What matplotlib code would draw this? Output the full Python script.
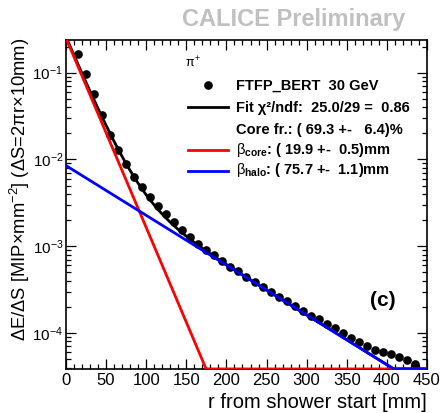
import numpy as np
import matplotlib
matplotlib.use("Agg")
from matplotlib import pyplot as plt
from matplotlib.lines import Line2D
from matplotlib.ticker import LogLocator, NullFormatter, MultipleLocator

plt.rcParams['font.family'] = ['Liberation Sans', 'DejaVu Sans']
plt.rcParams['mathtext.fontset'] = 'custom'
plt.rcParams['mathtext.rm'] = 'Liberation Sans'
plt.rcParams['mathtext.it'] = 'Liberation Sans'
plt.rcParams['mathtext.bf'] = 'Liberation Sans:bold'

################# FTFP_BERT 30 GeV radial profile #################
r_mm = [15, 25, 35, 45, 55, 65, 75, 85, 95, 105, 115, 125, 135, 145, 155,
        165, 175, 185, 195, 205, 215, 225, 235, 245, 255, 265, 275, 285,
        295, 305, 315, 325, 335, 345, 355, 365, 375, 385, 395, 405, 415,
        425, 435]
edep = [0.164, 0.0974, 0.0565, 0.0324, 0.0191, 0.0128, 0.00885, 0.00632,
        0.00479, 0.00373, 0.00294, 0.00236, 0.00190, 0.00154, 0.00128,
        0.00107, 9.16e-4, 7.86e-4, 6.74e-4, 5.77e-4, 5.12e-4, 4.45e-4,
        3.91e-4, 3.40e-4, 3.00e-4, 2.61e-4, 2.31e-4, 2.04e-4, 1.80e-4,
        1.59e-4, 1.44e-4, 1.28e-4, 1.13e-4, 1.00e-4, 8.85e-5, 7.88e-5,
        7.16e-5, 6.41e-5, 6.11e-5, 5.77e-5, 5.28e-5, 4.85e-5, 4.34e-5]

################# two-exponential fit #############################
core_amp = 0.25
core_beta = 19.9
halo_amp = 8.5e-3
halo_beta = 75.7

xticks = [0, 50, 100, 150, 200, 250, 300, 350, 400, 450]
yticks = [1e-4, 1e-3, 1e-2, 1e-1]
ytick_labels = ['$10^{-4}$', '$10^{-3}$', '$10^{-2}$', '$10^{-1}$']
y_lo, y_hi = 3.82e-5, 0.238

W, H = 441, 413
def fx(px):
    return px / W
def fy(py):
    return 1 - py / H

fig = plt.figure(figsize=(W / 100, H / 100), dpi=100)
ax = fig.add_axes([fx(66), fy(369.3), (427 - 66) / W, (369.3 - 40) / H])

r = np.linspace(0, 450, 901)
core = core_amp * np.exp(-r / core_beta)
halo = halo_amp * np.exp(-r / halo_beta)
total = core + halo
# ROOT draws the underflow part along the bottom of the frame
floor = y_lo * 1.01

ax.plot(r_mm, edep, 'o', color='black', ms=5.2, zorder=2)
ax.plot(r, np.maximum(total, floor), color='black', lw=2.0, zorder=3)
ax.plot(r, np.maximum(core, floor), color='#ff0000', lw=2.0, zorder=4)
ax.plot(r, np.maximum(halo, floor), color='#0000ff', lw=2.0, zorder=5)

ax.set_yscale('log')
ax.set_xlim(0, 450)
ax.set_ylim(y_lo, y_hi)
ax.set_xticks(xticks)
ax.set_xticklabels([str(v) for v in xticks])
ax.xaxis.set_minor_locator(MultipleLocator(10))
ax.set_yticks(yticks)
ax.set_yticklabels(ytick_labels)
ax.yaxis.set_minor_locator(LogLocator(base=10, subs=np.arange(2, 10)))
ax.yaxis.set_minor_formatter(NullFormatter())

ax.tick_params(which='both', direction='in', top=True, right=True, width=0.9)
ax.tick_params(which='major', length=7)
ax.tick_params(which='minor', length=3.3)
ax.tick_params(axis='x', which='major', pad=2.5, labelsize=12)
ax.tick_params(axis='y', which='major', pad=2, labelsize=11)
for s in ax.spines.values():
    s.set_linewidth(1.2)

fig.text(fx(427), fy(402), 'r from shower start [mm]', fontsize=14.5,
         ha='right', va='center')
fig.text(fx(20), fy(38), r'$\Delta$E/$\Delta$S [MIP$\times$mm$^{-2}$] ($\Delta$S=2$\pi$r$\times$10mm)',
         fontsize=13.2, rotation=90, ha='center', va='top')

fig.text(fx(293.5), fy(26), 'CALICE Preliminary', fontsize=17,
         fontweight='bold', color='#c0c0c0', ha='center', va='baseline')

# legend block
fig.text(fx(185), fy(67), r'$\pi^{+}$', fontsize=9, ha='left', va='baseline')
fig.add_artist(Line2D([fx(208)], [fy(85)], marker='o', ms=5.2, color='black'))
fig.add_artist(Line2D([fx(188), fx(228)], [fy(106.7)] * 2, color='black', lw=2.0))
fig.add_artist(Line2D([fx(188), fx(228)], [fy(150)] * 2, color='#ff0000', lw=2.0))
fig.add_artist(Line2D([fx(188), fx(228)], [fy(171)] * 2, color='#0000ff', lw=2.0))

rows = ['FTFP_BERT  30 GeV',
        'Fit \u03c7\u00b2/ndf:  25.0/29 =  0.86',
        'Core fr.: ( 69.3 +-   6.4)%',
        r'$\beta_{\mathbf{core}}$: ( %.1f +-  0.5)mm' % core_beta,
        r'$\beta_{\mathbf{halo}}$: ( %.1f +-  1.1)mm' % halo_beta]
baselines = [90, 111.7, 134, 154, 174]
for txt, yb in zip(rows, baselines):
    fig.text(fx(236), fy(yb), txt, fontsize=10.5, fontweight='bold',
             ha='left', va='baseline')

fig.text(fx(383), fy(306), '(c)', fontsize=15, fontweight='bold',
         ha='center', va='baseline')

fig.savefig('out.png', dpi=100)
